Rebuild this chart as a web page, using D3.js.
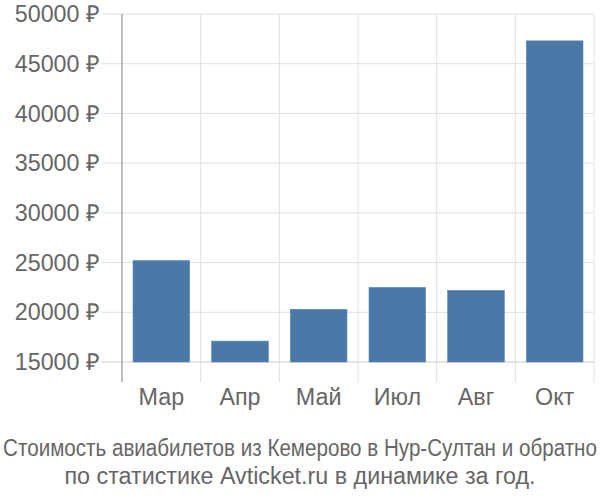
<!DOCTYPE html>
<html>
<head>
<meta charset="utf-8">
<script src="https://cdn.jsdelivr.net/npm/d3@7"></script>
<style>
  body { margin: 0; background: #fff; }
  text { font-family: "Liberation Sans", Arial, sans-serif; fill: #666; }
</style>
</head>
<body>
<div id="chart"></div>
<script>
var months = ["Мар", "Апр", "Май", "Июл", "Авг", "Окт"];
var prices = [25200, 17100, 20300, 22500, 22200, 47300];
var yTicks = [15000, 20000, 25000, 30000, 35000, 40000, 45000, 50000];
var titleLines = ["Стоимость авиабилетов из Кемерово в Нур-Султан и обратно",
    "по статистике Avticket.ru в динамике за год."];

var width = 600, height = 500;
var plotLeft = 122, plotRight = 594, plotTop = 14, plotBottom = 362;
var fontSize = "23.3px";

var svg = d3.select("#chart").append("svg")
    .attr("width", width)
    .attr("height", height);

var x = d3.scaleBand()
    .domain(months)
    .range([plotLeft, plotRight])
    .paddingInner(0.28)
    .paddingOuter(0.14);

var y = d3.scaleLinear()
    .domain([15000, 50000])
    .range([plotBottom, plotTop]);

// horizontal grid
svg.append("g")
    .selectAll("line")
    .data(yTicks)
    .enter()
    .append("line")
    .attr("x1", plotLeft - 20)
    .attr("x2", plotRight)
    .attr("y1", function(d) { return y(d); })
    .attr("y2", function(d) { return y(d); })
    .style("stroke", function(d) { return d === 15000 ? "#ccc" : "#e0e0e0"; })
    .style("stroke-width", 1);

// vertical grid (band edges)
var edges = months.map(function(m) { return x(m) - x.step() * x.paddingInner() / 2; });
edges.push(plotRight);
svg.append("g")
    .selectAll("line")
    .data(edges)
    .enter()
    .append("line")
    .attr("x1", function(d) { return d; })
    .attr("x2", function(d) { return d; })
    .attr("y1", plotTop)
    .attr("y2", plotBottom + 20)
    .style("stroke", function(d, i) { return i === 0 ? "#aaa" : "#e0e0e0"; })
    .style("stroke-width", function(d, i) { return i === 0 ? 1.5 : 1; });

// y labels
svg.append("g")
    .selectAll("text")
    .data(yTicks)
    .enter()
    .append("text")
    .attr("x", 100)
    .attr("y", function(d) { return y(d); })
    .attr("dy", "0.35em")
    .attr("text-anchor", "end")
    .style("font-size", fontSize)
    .text(function(d) { return d + " ₽"; });

// bars
svg.append("g")
    .selectAll("rect")
    .data(prices)
    .enter()
    .append("rect")
    .attr("x", function(d, i) { return x(months[i]); })
    .attr("width", x.bandwidth())
    .attr("y", function(d) { return y(d); })
    .attr("height", function(d) { return y(15000) - y(d); })
    .style("fill", "#4c78a8")
    .style("stroke", "#5a86b4")
    .style("stroke-width", 0.6);

// x labels
svg.append("g")
    .selectAll("text")
    .data(months)
    .enter()
    .append("text")
    .attr("x", function(d) { return x(d) + x.bandwidth() / 2; })
    .attr("y", 405)
    .attr("text-anchor", "middle")
    .style("font-size", fontSize)
    .text(function(d) { return d; });

// title: first line is squeezed to fit the width
var t1 = svg.append("text")
    .attr("x", 0)
    .attr("y", 0)
    .attr("text-anchor", "middle")
    .style("font-size", fontSize)
    .text(titleLines[0]);
var w1 = t1.node().getComputedTextLength();
var sx = Math.min(1, 594 / w1);
t1.attr("transform", "translate(300,456) scale(" + sx + ",1)");

svg.append("text")
    .attr("x", 300)
    .attr("y", 484)
    .attr("text-anchor", "middle")
    .style("font-size", fontSize)
    .text(titleLines[1]);
</script>
</body>
</html>
